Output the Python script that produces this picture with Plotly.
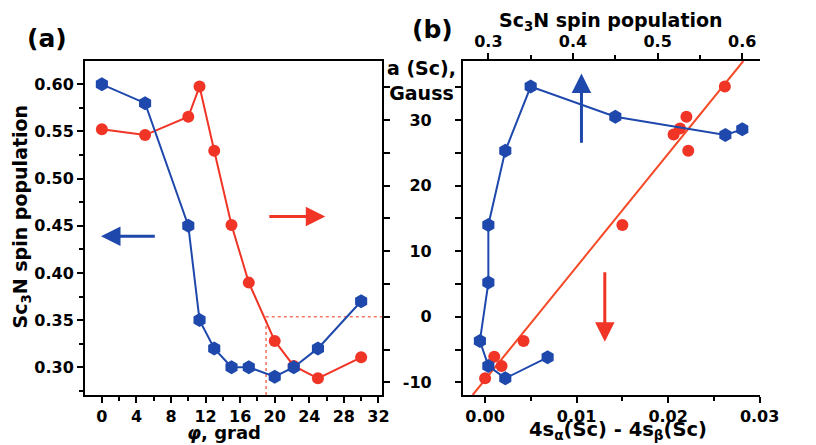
import plotly.graph_objects as go

# ---------------- data ----------------
# panel (a): dihedral angle phi vs Sc3N spin population (blue) and a(Sc) (red)
phi = [0, 5, 10, 11.3, 13, 15, 17, 20, 22.2, 25, 30]
spin_pop = [0.60, 0.58, 0.45, 0.35, 0.32, 0.30, 0.30, 0.29, 0.30, 0.32, 0.37]
a_sc = [28.6, 27.7, 30.5, 35.1, 25.3, 14.0, 5.2, -3.7, -7.5, -9.4, -6.2]

# panel (b): a(Sc) vs 4s spin density difference (red) with linear fit
s4_diff = [0.0000, 0.0010, 0.0018, 0.0042, 0.0150, 0.0206, 0.0213, 0.0220, 0.0222, 0.0262]
a_sc_b = [-9.4, -6.1, -7.5, -3.7, 14.0, 27.8, 28.7, 30.5, 25.3, 35.1]
fit_x = [-0.00136, 0.02822]
fit_y = [-11.94, 39.0]

# guide lines in (a)
guide_phi = 19.0
guide_a = 0.0

# tick labels
gauss_ticks = [-10, 0, 10, 20, 30]
gauss_ticktext = ["-10", "0", "10", "20", "30"]

# ---------------- style ----------------
W, H = 816, 445
BLUE = "rgb(30,72,172)"
RED = "rgb(240,52,38)"
FIT = "rgb(244,74,40)"
GUIDE = "rgb(246,120,100)"
FONT = "DejaVu Sans"

def px_x(p):
    return p / W

def px_y(p):
    return 1 - p / H

A_DOM_X = [px_x(87), px_x(391)]
B_DOM_X = [px_x(474), px_x(778)]
DOM_Y = [px_y(395), px_y(61)]

GAUSS_RANGE = [-11.94, 39.0]

tickfont = dict(family=FONT, size=16, color="black", weight="bold")
common = dict(showgrid=False, zeroline=False, showline=True, linecolor="black",
              linewidth=2, ticks="outside", ticklen=6, tickwidth=2, tickcolor="black",
              tickfont=tickfont)

fig = go.Figure()

# (a) red: a(Sc) vs phi (base axes x / y)
fig.add_trace(go.Scatter(x=[guide_phi, guide_phi, 32.4], y=[GAUSS_RANGE[0], guide_a, guide_a],
                         mode="lines", line=dict(color=GUIDE, width=1.6, dash="dot"),
                         xaxis="x", yaxis="y", hoverinfo="skip", showlegend=False))
fig.add_trace(go.Scatter(x=phi, y=a_sc, mode="lines+markers",
                         line=dict(color=RED, width=2),
                         marker=dict(symbol="circle", size=12, color=RED),
                         xaxis="x", yaxis="y", showlegend=False))
# (a) blue: spin population vs phi (overlay y2 on left side)
fig.add_trace(go.Scatter(x=phi, y=spin_pop, mode="lines+markers",
                         line=dict(color=BLUE, width=2),
                         marker=dict(symbol="hexagon", size=14, color=BLUE),
                         xaxis="x", yaxis="y2", showlegend=False))

# (b) red: a(Sc) vs 4s difference and linear fit (base axes x3 / y3)
fig.add_trace(go.Scatter(x=fit_x, y=fit_y, mode="lines",
                         line=dict(color=FIT, width=2),
                         xaxis="x3", yaxis="y3", showlegend=False))
fig.add_trace(go.Scatter(x=s4_diff, y=a_sc_b, mode="markers",
                         marker=dict(symbol="circle", size=12, color=RED),
                         xaxis="x3", yaxis="y3", showlegend=False))
# (b) blue: a(Sc) vs spin population (top axis x4)
fig.add_trace(go.Scatter(x=spin_pop, y=a_sc, mode="lines+markers",
                         line=dict(color=BLUE, width=2),
                         marker=dict(symbol="hexagon", size=14, color=BLUE),
                         xaxis="x4", yaxis="y3", showlegend=False))

fig.update_layout(
    width=W, height=H, autosize=False,
    margin=dict(l=0, r=0, t=0, b=0, pad=0),
    paper_bgcolor="white", plot_bgcolor="white",
    showlegend=False, hovermode=False,
    xaxis=dict(domain=A_DOM_X, anchor="y", range=[-1.955, 32.4], autorange=False,
               tickmode="linear", tick0=0, dtick=4, mirror=True,
               minor=dict(tickmode="linear", tick0=0, dtick=2, ticks="outside",
                          ticklen=4, tickwidth=2, tickcolor="black"),
               **common),
    yaxis=dict(domain=DOM_Y, anchor="x", side="right", range=GAUSS_RANGE, autorange=False,
               tickmode="linear", tick0=0, dtick=5, showticklabels=False,
               **common),
    yaxis2=dict(domain=DOM_Y, anchor="x", overlaying="y", side="left",
                range=[0.2706, 0.6247], autorange=False, tickmode="linear", tick0=0, dtick=0.05,
                tickformat=".2f",
                minor=dict(tickmode="linear", tick0=0.025, dtick=0.05, ticks="outside",
                           ticklen=4, tickwidth=2, tickcolor="black"),
                **common),
    xaxis3=dict(domain=B_DOM_X, anchor="y3", side="bottom", range=[-0.00242, 0.03003],
                autorange=False, tickmode="linear", tick0=0, dtick=0.01, tickformat=".2f",
                minor=dict(tickmode="linear", tick0=0, dtick=0.005, ticks="outside",
                           ticklen=4, tickwidth=2, tickcolor="black"),
                **common),
    xaxis4=dict(domain=B_DOM_X, anchor="y3", overlaying="x3", side="top", range=[0.27, 0.6208],
                autorange=False, tickmode="linear", tick0=0, dtick=0.1, tickformat=".1f",
                minor=dict(tickmode="linear", tick0=0.05, dtick=0.1, ticks="outside",
                           ticklen=4, tickwidth=2, tickcolor="black"),
                **common),
    yaxis3=dict(domain=DOM_Y, anchor="x3", side="left", range=GAUSS_RANGE, autorange=False,
                tickmode="array", tickvals=gauss_ticks, ticktext=gauss_ticktext,
                ticklabelstandoff=20,
                minor=dict(tickmode="linear", tick0=0, dtick=5, ticks="outside",
                           ticklen=6, tickwidth=2, tickcolor="black"),
                **common),
    yaxis4=dict(domain=DOM_Y, anchor="x3", overlaying="y3", side="right", range=GAUSS_RANGE,
                autorange=False, tickmode="array", tickvals=gauss_ticks, ticktext=gauss_ticktext,
                minor=dict(tickmode="linear", tick0=0, dtick=5, ticks="outside",
                           ticklen=6, tickwidth=2, tickcolor="black"),
                **common),
)

def label(text, x, y, size=19, angle=0, yanchor="middle"):
    fig.add_annotation(text=text, x=px_x(x), y=px_y(y), xref="paper", yref="paper",
                       showarrow=False, xanchor="center", yanchor=yanchor, textangle=angle,
                       font=dict(family=FONT, size=size, color="black", weight="bold"))

label("(a)", 48, 38, size=25)
label("(b)", 443, 30, size=25)
label("Sc<sub>3</sub>N spin population", 23, 216, angle=-90)
label("a (Sc),<br>Gauss", 432, 80)
label("Sc<sub>3</sub>N spin population", 626, 22)
label("<i>φ</i>, grad", 229, 445, size=18, yanchor="bottom")
label("4s<sub>α</sub>(Sc) - 4s<sub>β</sub>(Sc)", 633, 445, size=19.5, yanchor="bottom")

# arrows indicating which axis each series belongs to
def arrow(x, y, ax, ay, xref, yref, color):
    fig.add_annotation(x=x, y=y, ax=ax, ay=ay, xref=xref, yref=yref, axref=xref, ayref=yref,
                       text="", showarrow=True, arrowhead=2, arrowsize=1.3, arrowwidth=3,
                       arrowcolor=color, standoff=0, startstandoff=0)

arrow(-0.1, 0.439, 6.3, 0.439, "x", "y2", BLUE)
arrow(25.85, 15.3, 19.2, 15.3, "x", "y", RED)
arrow(0.41, 37.1, 0.41, 26.3, "x4", "y3", BLUE)
arrow(0.01308, -3.8, 0.01308, 7.0, "x3", "y3", RED)

# remove the browser's default page margin / scrollbars so the figure sits at the window origin
fig.write_html(
    "out.html",
    config={"displayModeBar": False, "responsive": False, "staticPlot": True},
    post_script=(
        "document.body.style.margin='0';"
        "document.body.style.overflow='hidden';"
        "document.documentElement.style.overflow='hidden';"
    ),
)
